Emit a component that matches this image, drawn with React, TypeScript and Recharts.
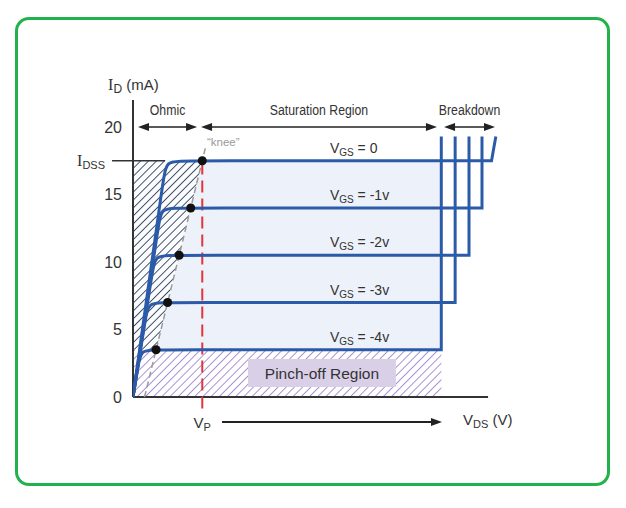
import React from "react";
import {
  ComposedChart,
  Line,
  Area,
  Scatter,
  XAxis,
  YAxis,
  ReferenceArea,
  ReferenceLine,
  ReferenceDot,
} from "recharts";

// JFET output characteristics, VDS (V) on x, ID (mA) on y
const gateLabels = ["0", "-1v", "-2v", "-3v", "-4v"];
const satLevels = [17.5, 14, 10.5, 7, 3.5];
const yTicks = [0, 5, 10, 15, 20];
const IDSS = 17.5;
const VP = 4;
const BREAK_START = 17.8;

// each curve: ohmic rise, knee, flat saturation, breakdown rise
const curveVgs0 = [
  { x: 0, y: 0 }, { x: 1.74, y: 16 }, { x: 1.9, y: 17.5 }, { x: 2.9, y: 17.5 },
  { x: 20.7, y: 17.5 }, { x: 20.7, y: 17.5 }, { x: 20.7, y: 17.5 }, { x: 20.95, y: 19.3 },
];
const curveVgs1 = [
  { x: 0, y: 0 }, { x: 1.47, y: 12.7 }, { x: 1.62, y: 14 }, { x: 2.6, y: 14 },
  { x: 20.15, y: 14 }, { x: 20.15, y: 14 }, { x: 20.15, y: 14 }, { x: 20.15, y: 19.3 },
];
const curveVgs2 = [
  { x: 0, y: 0 }, { x: 1.11, y: 9.2 }, { x: 1.27, y: 10.5 }, { x: 2.25, y: 10.5 },
  { x: 19.4, y: 10.5 }, { x: 19.4, y: 10.5 }, { x: 19.4, y: 10.5 }, { x: 19.4, y: 19.3 },
];
const curveVgs3 = [
  { x: 0, y: 0 }, { x: 0.71, y: 5.7 }, { x: 0.87, y: 7 }, { x: 1.85, y: 7 },
  { x: 18.6, y: 7 }, { x: 18.6, y: 7 }, { x: 18.6, y: 7 }, { x: 18.6, y: 19.3 },
];
const curveVgs4 = [
  { x: 0, y: 0 }, { x: 0.3, y: 2.3 }, { x: 0.45, y: 3.5 }, { x: 1.35, y: 3.5 },
  { x: 17.8, y: 3.5 }, { x: 17.8, y: 3.5 }, { x: 17.8, y: 3.5 }, { x: 17.8, y: 19.3 },
];
const curves = [curveVgs0, curveVgs1, curveVgs2, curveVgs3, curveVgs4];

const kneePoints = [
  { x: 4, y: 17.5 }, { x: 3.333, y: 14 }, { x: 2.667, y: 10.5 }, { x: 2, y: 7 }, { x: 1.333, y: 3.5 },
];
const ohmicBand = [
  { x: 0, band: [3.5, 17.5] },
  { x: 1.333, band: [3.5, 17.5] },
  { x: 4, band: [17.5, 17.5] },
];
const regions = [
  { name: "Ohmic", from: 0.29, to: 3.7 },
  { name: "Saturation Region", from: 3.93, to: 17.55 },
  { name: "Breakdown", from: 17.96, to: 20.9 },
];

const FONT = "'Liberation Sans', Arial, sans-serif";
const SERIF = "'Liberation Serif', 'Times New Roman', serif";
const INK = "#333";
const BLUE = "#2b5ba8";

function SubText({ main, sub, rest = "", size = 15, subSize = 11, anchor = "start", serif = false }: any) {
  return (
    <text y={size * 0.35} textAnchor={anchor} fill={INK} fontFamily={FONT} fontSize={size}>
      <tspan fontFamily={serif ? SERIF : FONT} fontSize={serif ? size + 1 : size}>{main}</tspan>
      <tspan fontSize={subSize} dy={3}>{sub}</tspan>
      {rest ? <tspan dy={-3}>{rest}</tspan> : null}
    </text>
  );
}

const note = (key: string, x: number, y: number, node: React.ReactNode) => (
  <ReferenceDot
    key={key}
    x={x}
    y={y}
    r={0}
    ifOverflow="visible"
    shape={(p: any) => <g transform={`translate(${p.cx},${p.cy})`}>{node}</g>}
  />
);

const arrowShape = (label: string, both: boolean, width = 1.5) => (p: any) => {
  const { x1, y1, x2, y2 } = p;
  const h = 11;
  const w = 4;
  return (
    <g>
      <line x1={both ? x1 + h - 1 : x1} y1={y1} x2={x2 - h + 1} y2={y2} stroke="#222" strokeWidth={width} />
      <polygon points={`${x2},${y2} ${x2 - h},${y2 - w} ${x2 - h},${y2 + w}`} fill="#222" />
      {both ? <polygon points={`${x1},${y1} ${x1 + h},${y1 - w} ${x1 + h},${y1 + w}`} fill="#222" /> : null}
      {label ? (
        <g transform={`translate(${(x1 + x2) / 2},${y1 - 12}) scale(0.82,1)`}>
          <text textAnchor="middle" fill={INK} fontFamily={FONT} fontSize={15}>
            {label}
          </text>
        </g>
      ) : null}
    </g>
  );
};

export default function App() {
  return (
    <div style={{ position: "absolute", left: 0, top: 0, width: 626, height: 508, background: "#fff" }}>
      <div
        style={{
          position: "absolute",
          left: 15,
          top: 17,
          width: 595,
          height: 469,
          border: "3px solid #22b24c",
          borderRadius: 14,
          boxSizing: "border-box",
        }}
      />
      <div style={{ position: "absolute", left: 0, top: 0 }}>
        <ComposedChart
          width={626}
          height={508}
          data={ohmicBand}
          margin={{ top: 86.5, right: 77.32, bottom: 70.5, left: 73 }}
        >
          <defs>
            <pattern id="hatchDark" patternUnits="userSpaceOnUse" width="5.6" height="5.6" patternTransform="rotate(45)">
              <rect width="5.6" height="5.6" fill="#fbfcfe" />
              <line x1="0" y1="0" x2="0" y2="5.6" stroke="#34425e" strokeWidth="1.8" />
            </pattern>
            <pattern id="hatchPurple" patternUnits="userSpaceOnUse" width="5.8" height="5.8" patternTransform="rotate(45)">
              <rect width="5.8" height="5.8" fill="#fff" />
              <line x1="0" y1="0" x2="0" y2="5.8" stroke="#9a80cc" strokeWidth="1.7" />
            </pattern>
          </defs>
          <XAxis type="number" dataKey="x" domain={[0, 24]} allowDataOverflow hide />
          <YAxis
            type="number"
            domain={[-3, 23]}
            allowDataOverflow
            ticks={yTicks}
            interval={0}
            axisLine={false}
            tickLine={false}
            width={60}
            tickMargin={5}
            tick={{ fontSize: 16, fill: INK, fontFamily: FONT }}
          />

          {/* saturation fill and pinch-off hatching */}
          <ReferenceArea x1={0} x2={BREAK_START} y1={3.5} y2={IDSS} fill="#edf1f9" fillOpacity={1} stroke="none" />
          <ReferenceArea x1={0} x2={BREAK_START} y1={0} y2={3.5} fill="url(#hatchPurple)" fillOpacity={1} stroke="none" />
          <ReferenceArea
            x1={6.64}
            x2={15.18}
            y1={0.74}
            y2={2.81}
            fill="#d9d0e8"
            fillOpacity={1}
            stroke="none"
            label={{ value: "Pinch-off Region", position: "center", fill: INK, fontSize: 15.5, fontFamily: FONT }}
          />
          <Area
            type="linear"
            dataKey="band"
            stroke="none"
            fill="url(#hatchDark)"
            fillOpacity={1}
            dot={false}
            activeDot={false}
            isAnimationActive={false}
          />

          {/* axes */}
          <ReferenceLine segment={[{ x: 0, y: 0 }, { x: 0, y: 22 }]} stroke="#333" strokeWidth={2} ifOverflow="visible" />
          <ReferenceLine segment={[{ x: 0, y: 0 }, { x: 20.5, y: 0 }]} stroke="#333" strokeWidth={2} ifOverflow="visible" />
          <ReferenceLine segment={[{ x: -1.21, y: IDSS }, { x: 1.85, y: IDSS }]} stroke="#333" strokeWidth={1.5} ifOverflow="visible" />

          {/* knee locus and pinch-off voltage */}
          <ReferenceLine
            segment={[{ x: 0.667, y: 0 }, { x: 4.22, y: 18.67 }]}
            stroke="#9a9a9a"
            strokeWidth={1.5}
            strokeDasharray="6 4"
            ifOverflow="visible"
          />
          <ReferenceLine
            segment={[{ x: VP, y: -0.85 }, { x: VP, y: IDSS }]}
            stroke="#e3343a"
            strokeWidth={2}
            strokeDasharray="12 6"
            ifOverflow="visible"
          />

          {curves.map((c, i) => (
            <Line
              key={`vgs-${i}`}
              data={c}
              dataKey="y"
              type="basis"
              stroke={BLUE}
              strokeWidth={3}
              dot={false}
              activeDot={false}
              isAnimationActive={false}
            />
          ))}
          <Scatter data={kneePoints} dataKey="y" fill="#111" isAnimationActive={false} />

          {regions.map((r) => (
            <ReferenceLine
              key={r.name}
              segment={[{ x: r.from, y: 20 }, { x: r.to, y: 20 }]}
              ifOverflow="visible"
              shape={arrowShape(r.name, true)}
            />
          ))}
          <ReferenceLine
            segment={[{ x: 5.14, y: -1.85 }, { x: 17.84, y: -1.85 }]}
            ifOverflow="visible"
            shape={arrowShape("", false, 2)}
          />

          {satLevels.map((lv, i) =>
            note(`lbl-${i}`, 11.37, lv + 0.94, <SubText main="V" sub="GS" rest={` = ${gateLabels[i]}`} size={14} subSize={10} />)
          )}
          {note("id", -1.44, 23.1, <SubText main="I" sub="D" rest=" (mA)" size={15} subSize={12} serif />)}
          {note("idss", -3.23, IDSS, <SubText main="I" sub="DSS" size={15} subSize={11} serif />)}
          {note("vp", VP, -1.93, <SubText main="V" sub="P" size={15} subSize={11} anchor="middle" />)}
          {note("vds", 19.05, -1.7, <SubText main="V" sub="DS" rest=" (V)" size={15} subSize={11} />)}
          {note(
            "knee",
            4.27,
            18.9,
            <text y={4} fill="#9a9a9a" fontFamily={FONT} fontSize={11.5}>
              {"\u201cknee\u201d"}
            </text>
          )}
        </ComposedChart>
      </div>
    </div>
  );
}
